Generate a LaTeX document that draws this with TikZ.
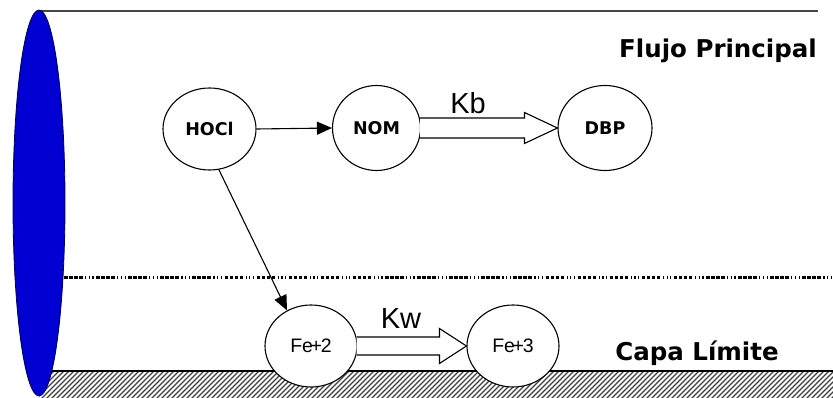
\documentclass[tikz,border=0pt]{standalone}
\usepackage{fontspec}
\setmainfont{Liberation Sans}
\newfontfamily\verd{DejaVu Sans}
\usetikzlibrary{shapes.geometric,arrows.meta,calc}
\definecolor{tubeblue}{RGB}{0,0,210}
\definecolor{topgray}{RGB}{70,70,70}
\tikzset{
  species/.style={ellipse,draw=black,line width=1.1pt,fill=white,inner sep=0pt,
    minimum width=93pt,minimum height=83pt},
  splabel/.style={font=\verd\bfseries\fontsize{17.5}{17.5}\selectfont},
  felabel/.style={font=\fontsize{19.5}{19.5}\selectfont},
  ratelabel/.style={font=\fontsize{29}{29}\selectfont},
  zonelabel/.style={font=\verd\bfseries\fontsize{24.5}{25}\selectfont},
  hollow/.style={draw=black,line width=1.1pt,fill=white,line join=miter},
  thinarrow/.style={line width=1.1pt,-{Triangle[length=15pt,width=13pt]}},
}
\begin{document}
\begin{tikzpicture}[x=1pt,y=-1pt]
\useasboundingbox (0,0) rectangle (833,398);
\fill[white] (0,0) rectangle (833,398);
% hatched wall
\begin{scope}
  \clip (39,371) rectangle (833,398);
  \foreach \i in {0,...,175} {
    \draw[line width=1.4pt,black!75] ({39+\i*5-30},401) -- ({39+\i*5},371);
  }
\end{scope}
\draw[line width=1.2pt] (39,371) -- (833,371);
% top wall line
\draw[line width=2.2pt,topgray] (39,11) -- (818,11);
% boundary layer dotted line
\draw[line width=3pt,dash pattern={on 3.5pt off 1.5pt on 3.5pt off 1.5pt on 3.5pt off 1.5pt on 3.5pt off 2.5pt on 1.2pt off 2.5pt on 1.2pt off 2.5pt on 1.2pt off 2.5pt}] (64,278) -- (833,278);
% tube end
\fill[tubeblue,draw=black!70!blue,line width=0.8pt] (39,203) ellipse [x radius=26, y radius=193];
% species
\node[species,minimum width=93pt,minimum height=82pt] (HOCl) at (209.5,129) {};
\node[splabel] at (HOCl) {HOCl};
\node[species,minimum width=88pt,minimum height=85pt] (NOM) at (376.5,128) {};
\node[splabel] at (NOM) {NOM};
\node[species,minimum width=94pt,minimum height=85pt] (DBP) at (605,128) {};
\node[splabel] at (DBP) {DBP};
\node[species,minimum width=92pt,minimum height=82pt] (Fe2) at (311,346) {};
\node[felabel] at (Fe2) {Fe\kern-2.5pt+\kern-1pt2};
\node[species,minimum width=92pt,minimum height=82pt] (Fe3) at (513,346) {};
\node[felabel] at (Fe3) {Fe\kern-2.5pt+\kern-1pt3};
% connectors
\draw[thinarrow] (HOCl.east) -- (NOM.west);
\draw[thinarrow] (HOCl.-77) -- (Fe2.124);
\draw[hollow] ($(NOM.east)+(-1,-10)$) -- ($(DBP.west)+(-33,-10)$) -- ($(DBP.west)+(-33,-15.5)$)
  -- (DBP.west) -- ($(DBP.west)+(-33,15.5)$) -- ($(DBP.west)+(-33,10)$) -- ($(NOM.east)+(-1,10)$);
\draw[hollow] ($(Fe2.east)+(-1,-9)$) -- ($(Fe3.west)+(-27,-9)$) -- ($(Fe3.west)+(-27,-17.5)$)
  -- (Fe3.west) -- ($(Fe3.west)+(-27,17.5)$) -- ($(Fe3.west)+(-27,9)$) -- ($(Fe2.east)+(-1,9)$);
% labels
\node[ratelabel] (Kb) at (468,103) {Kb};
\node[ratelabel] (Kw) at (401,319) {Kw};
\node[zonelabel] (flujo) at (718,51) {Flujo Principal};
\node[zonelabel] (capa) at (697,353) {Capa Límite};
\end{tikzpicture}
\end{document}
